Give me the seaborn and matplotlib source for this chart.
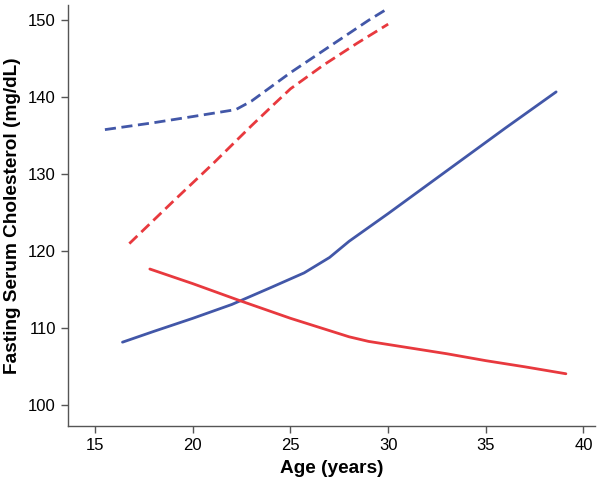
import numpy as np
import pandas as pd
import matplotlib
matplotlib.use("Agg")
import matplotlib.pyplot as plt
import seaborn as sns

# =========================
# DATA
# =========================

blue_solid_age = [16.4, 18.0, 20.0, 22.0, 24.0, 25.7, 27.0, 28.0, 30.0, 32.0, 34.0, 36.0, 38.6]
blue_solid_chol = [108.2, 109.6, 111.3, 113.1, 115.3, 117.2, 119.2, 121.3, 124.9, 128.6, 132.3, 136.0, 140.7]

red_solid_age = [17.8, 20.0, 22.4, 25.0, 27.0, 28.0, 29.0, 31.0, 33.0, 35.0, 37.0, 39.1]
red_solid_chol = [117.7, 115.8, 113.6, 111.3, 109.7, 108.9, 108.3, 107.5, 106.7, 105.8, 105.0, 104.1]

blue_dash_age = [15.5, 18.0, 20.0, 22.2, 23.0, 25.0, 27.0, 29.0, 29.9]
blue_dash_chol = [135.8, 136.7, 137.5, 138.4, 139.5, 143.2, 146.6, 150.0, 151.4]

red_dash_age = [16.75, 19.0, 21.0, 23.0, 24.2, 25.0, 26.7, 28.4, 30.0]
red_dash_chol = [121.0, 126.5, 131.3, 136.3, 139.2, 141.1, 144.2, 147.0, 149.5]

x_ticks = [15, 20, 25, 30, 35, 40]
y_ticks = [100, 110, 120, 130, 140, 150]

BLUE = "#4257A8"
RED = "#E8393E"

frames = []
for ages, vals, grp, kind in [
    (blue_solid_age, blue_solid_chol, "blue", "solid"),
    (red_solid_age, red_solid_chol, "red", "solid"),
    (blue_dash_age, blue_dash_chol, "blue", "dashed"),
    (red_dash_age, red_dash_chol, "red", "dashed"),
]:
    frames.append(pd.DataFrame({"age": ages, "chol": vals, "group": grp, "kind": kind}))
df = pd.concat(frames, ignore_index=True)

# =========================
# PLOT
# =========================

sns.set_style("ticks")
plt.rcParams["font.family"] = ["Liberation Sans", "DejaVu Sans"]

fig = plt.figure(figsize=(6, 4.87), dpi=100)
ax = fig.add_axes([0.113, 0.125, 0.879, 0.865])

sns.lineplot(
    data=df, x="age", y="chol",
    hue="group", palette={"blue": BLUE, "red": RED},
    style="kind", dashes={"solid": "", "dashed": (4, 2)},
    estimator=None, sort=False,
    linewidth=2.0, legend=False, ax=ax,
)

ax.set_xlim(13.6, 40.6)
ax.set_ylim(97.3, 152.0)
ax.set_xticks(x_ticks)
ax.set_yticks(y_ticks)
ax.tick_params(labelsize=12, length=5, width=1, color="#555555",
               labelcolor="black", direction="out")
ax.set_xlabel("Age (years)", fontsize=13.7, fontweight="bold", labelpad=5, color="black")
ax.set_ylabel("Fasting Serum Cholesterol (mg/dL)", fontsize=13.7, fontweight="bold",
              labelpad=5, color="black")

for side in ["left", "bottom"]:
    ax.spines[side].set_color("#555555")
    ax.spines[side].set_linewidth(1.0)
sns.despine(ax=ax)

fig.savefig("out.png", dpi=100)
